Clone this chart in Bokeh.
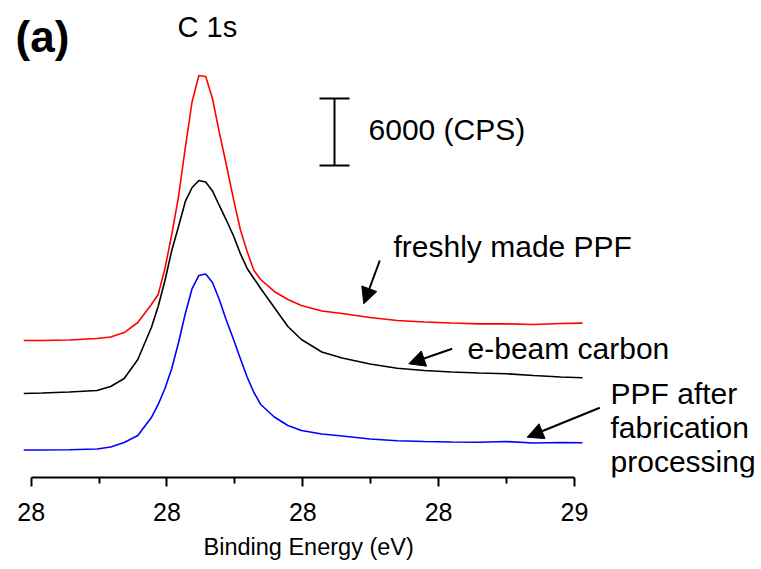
from bokeh.plotting import figure
from bokeh.models import Range1d, FixedTicker, Label, Arrow, NormalHead, Title
from bokeh.embed import file_html
from bokeh.resources import INLINE

# ---- data (binding energy in eV, intensity in CPS, offset spectra) ----
energy = [281.89, 282.16, 282.56, 282.97, 283.17, 283.37, 283.57, 283.77, 283.87, 283.97,
          284.07, 284.17, 284.27, 284.37, 284.47, 284.57, 284.67, 284.77, 284.87, 284.98,
          285.08, 285.18, 285.28, 285.38, 285.58, 285.78, 285.98, 286.28, 286.58, 286.99,
          287.39, 287.79, 288.19, 288.60, 289.00, 289.40, 289.80, 290.12]

fresh_ppf = [12270, 12270, 12310, 12450, 12580, 12980, 13880, 15490, 16390, 18720,
             21760, 25160, 29550, 33670, 36000, 35910, 33940, 30900, 28120, 24900,
             22210, 20240, 18540, 17730, 16660, 15940, 15400, 14910, 14690, 14330,
             14060, 13930, 13840, 13760, 13760, 13700, 13790, 13820]

ebeam_carbon = [7520, 7570, 7660, 7790, 8150, 8870, 10570, 13430, 15310, 17640,
                20330, 22480, 24720, 25970, 26600, 26460, 25660, 24360, 23100, 21630,
                20060, 18720, 17820, 16920, 15220, 13520, 12360, 11240, 10700, 10160,
                9790, 9580, 9450, 9360, 9290, 9130, 9000, 8930]

ppf_processed = [2460, 2460, 2480, 2550, 2730, 3130, 3760, 5370, 6540, 7970,
                 9760, 12090, 14690, 16920, 18090, 18220, 17460, 15940, 14150, 12360,
                 10660, 9000, 7610, 6540, 5420, 4660, 4210, 3900, 3720, 3450,
                 3290, 3220, 3180, 3160, 3220, 3090, 3130, 3110]

major_ticks = [282, 284, 286, 288, 290]
minor_ticks = [283, 285, 287, 289]
tick_labels = ["28", "28", "28", "28", "29"]

scale_bar_x = 286.467
scale_bar_cap = [286.246, 286.688]
scale_bar_low = 27940
scale_bar_high = scale_bar_low + 6000

FONT = "Liberation Sans"

p = figure(width=761, height=569, output_backend="svg", toolbar_location=None,
           x_range=Range1d(281.5479, 292.7556), y_range=Range1d(0, 42715),
           min_border_left=0, min_border_right=0, min_border_top=0, min_border_bottom=92,
           y_axis_location=None)
p.outline_line_color = None
p.grid.visible = False
p.background_fill_color = "white"
p.border_fill_color = "white"

# spectra
p.line(energy, fresh_ppf, line_color="#ff0000", line_width=1.6)
p.line(energy, ebeam_carbon, line_color="#000000", line_width=1.6)
p.line(energy, ppf_processed, line_color="#0000ff", line_width=1.6)

# scale bar
p.segment(x0=[scale_bar_x, scale_bar_cap[0], scale_bar_cap[0]],
          y0=[scale_bar_low, scale_bar_high, scale_bar_low],
          x1=[scale_bar_x, scale_bar_cap[1], scale_bar_cap[1]],
          y1=[scale_bar_high, scale_bar_high, scale_bar_low],
          line_color="black", line_width=2)

# x axis
ax = p.xaxis[0]
ax.ticker = FixedTicker(ticks=major_ticks, minor_ticks=minor_ticks)
ax.major_label_overrides = {t: l for t, l in zip(major_ticks, tick_labels)}
ax.bounds = (282, 290)
ax.axis_line_width = 2
ax.axis_line_color = "black"
ax.major_tick_line_width = 2
ax.minor_tick_line_width = 2
ax.major_tick_line_color = "black"
ax.minor_tick_line_color = "black"
ax.major_tick_out = 9
ax.major_tick_in = 0
ax.minor_tick_out = 6
ax.minor_tick_in = 0
ax.major_label_text_font = FONT
ax.major_label_text_font_size = "25px"
ax.major_label_text_color = "black"
ax.major_label_standoff = 16

# axis title, placed as a title panel below the axis
p.add_layout(Title(text="Binding Energy (eV)", align="left", offset=203,
                   text_font=FONT, text_font_size="23.5px", text_font_style="normal",
                   text_color="black", standoff=16), "below")


def lab(x, y, text, size="30px", style="normal", align="left"):
    p.add_layout(Label(x=x, y=y, text=text, text_font=FONT, text_font_size=size,
                       text_font_style=style, text_color="black",
                       text_align=align, text_baseline="middle"))


lab(281.769, 39448, "(a)", size="44px", style="bold")
lab(284.155, 40298, "C 1s", size="29px")
lab(286.968, 31163, "6000 (CPS)")
lab(287.336, 20686, "freshly made PPF")
lab(288.426, 11552, "e-beam carbon")
lab(290.532, 7522, "PPF after")
lab(290.532, 4433, "fabrication")
lab(290.532, 1433, "processing")


def arrow(x0, y0, x1, y1):
    p.add_layout(Arrow(end=NormalHead(size=16, fill_color="black", line_color="black"),
                       x_start=x0, y_start=y0, x_end=x1, y_end=y1,
                       line_color="black", line_width=2))


arrow(287.134, 19432, 286.898, 15555)
arrow(288.200, 11525, 287.561, 10182)
arrow(290.374, 6242, 289.305, 3609)

open("out.html", "w").write(file_html(p, INLINE))
